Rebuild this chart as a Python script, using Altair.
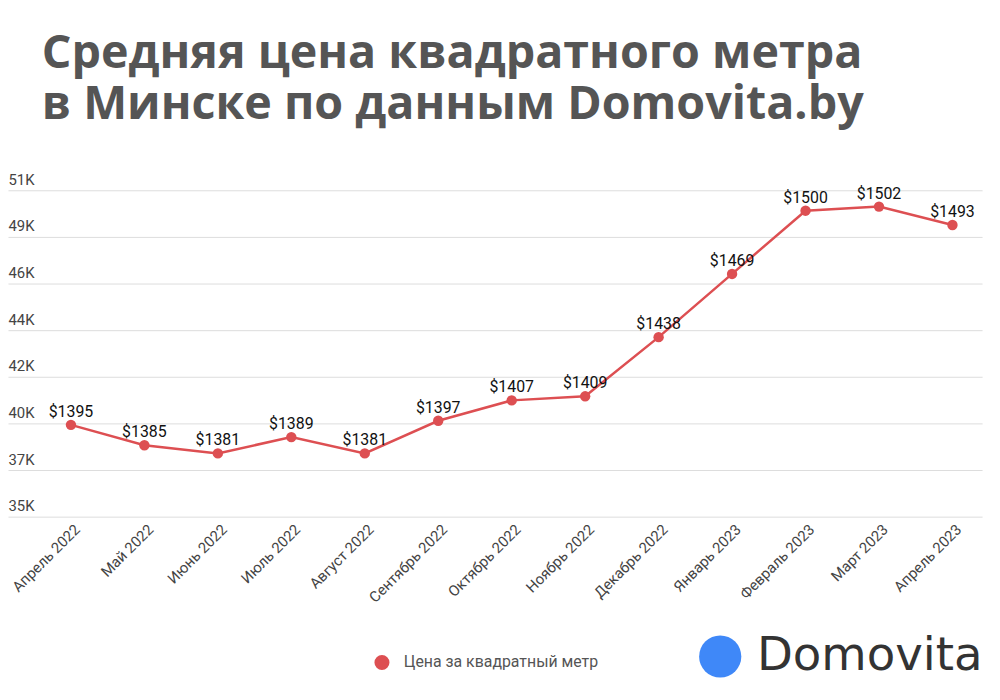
import json
import altair as alt
import pandas as pd

months = ["Апрель 2022", "Май 2022", "Июнь 2022", "Июль 2022", "Август 2022",
          "Сентябрь 2022", "Октябрь 2022", "Ноябрь 2022", "Декабрь 2022",
          "Январь 2023", "Февраль 2023", "Март 2023", "Апрель 2023"]
prices = [1395, 1385, 1381, 1389, 1381, 1397, 1407, 1409, 1438, 1469, 1500, 1502, 1493]
series_name = "Цена за квадратный метр"
y_domain = [1350, 1510]
y_tick_values = [1350, 1372.857, 1395.714, 1418.571, 1441.429, 1464.286, 1487.143, 1510]
y_tick_labels = ["35K", "37K", "40K", "42K", "44K", "46K", "49K", "51K"]
title_lines = ["Средняя цена квадратного метра", "в Минске по данным Domovita.by"]
brand = ["Domovita"]

RED = "#dd4f52"

df = pd.DataFrame({
    "month": months,
    "price": prices,
    "series": series_name,
    "label": ["$" + str(p) for p in prices],
})

label_expr = (json.dumps(y_tick_labels, ensure_ascii=False)
              + "[round((datum.value - 1350) * 7 / 160)]")

x = alt.X("month:N", sort=months,
          scale=alt.Scale(type="point", padding=0.63, align=0.68),
          axis=alt.Axis(title=None, labelAngle=-45, labelAlign="right",
                        labelBaseline="middle", labelFontSize=15, labelColor="#444444",
                        labelFont="Roboto", domain=False, ticks=False, labelPadding=10,
                        labelOffset=6, grid=False))
y = alt.Y("price:Q",
          scale=alt.Scale(domain=y_domain, nice=False, zero=False),
          axis=alt.Axis(title=None, values=y_tick_values, labelExpr=label_expr,
                        labelAlign="left", labelBaseline="alphabetic", labelOffset=-6,
                        labelPadding=0, tickSize=0, ticks=False, domain=False,
                        gridColor="#dddddd", gridWidth=1, labelFontSize=15,
                        labelColor="#444444", labelFont="Roboto"))

color = alt.Color("series:N", scale=alt.Scale(range=[RED]),
                  legend=alt.Legend(title=None, orient="none", legendX=369, legendY=468,
                                    symbolType="circle", symbolSize=230, labelOffset=14,
                                    labelFontSize=16, labelColor="#555555", labelLimit=0,
                                    labelFont="Roboto", symbolStrokeWidth=0,
                                    symbolOpacity=1, symbolFillColor=RED))

base = alt.Chart(df).encode(x=x, y=y)
line = base.mark_line(strokeWidth=2.5, color=RED)
pts = base.mark_circle(size=110, opacity=1).encode(color=color)
labels = base.mark_text(dy=-8, baseline="alphabetic", fontSize=16, font="Roboto",
                        color="#111111").encode(text="label:N")

logo_df = pd.DataFrame({"b": brand})
logo_dot = alt.Chart(logo_df).mark_point(shape="circle", size=1810, filled=True,
                                         color="#3f88f8", opacity=1).encode(
    x=alt.value(718), y=alt.value(470))
logo_text = alt.Chart(logo_df).mark_text(align="left", baseline="alphabetic",
                                         font="DejaVu Sans", fontSize=47,
                                         color="#333333").encode(
    x=alt.value(755), y=alt.value(484), text="b:N")

chart = alt.layer(line, pts, labels, logo_dot, logo_text).properties(
    width=982, height=329,
    title=alt.TitleParams(text=title_lines, anchor="start", frame="group", dx=34,
                          fontSize=47, font="Open Sans", fontWeight="bold",
                          color="#555555", lineHeight=51, offset=44),
    padding={"left": 0, "top": 181, "right": 10, "bottom": 174},
    autosize="none",
).configure_view(stroke=None)

chart.save("out.html", embed_options={"renderer": "svg", "actions": False})
